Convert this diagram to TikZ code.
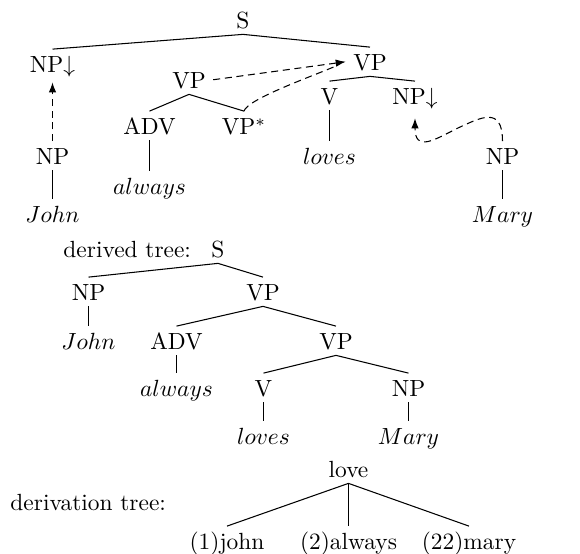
\documentclass[tikz,border=0pt]{standalone}
\usetikzlibrary{arrows.meta}
\begin{document}
\begin{tikzpicture}[x=0.4274pt,y=-0.4274pt,
  lab/.style={anchor=base,inner xsep=3pt,inner ysep=0pt,text height=10pt,text depth=2.1pt},
  plain/.style={anchor=base west,inner sep=0pt},
  branch/.style={line width=0.45pt},
  dsh/.style={line width=0.45pt,dash pattern=on 3pt off 2pt},
  subst/.style={dsh,-{Latex[length=4.3pt,width=3.2pt]}}]
\useasboundingbox (0,0) rectangle (580,554);
% elementary trees
\node[lab] (S1) at (243,29) {S};
\node[lab] (NPd1) at (52.5,73) {NP$\downarrow$};
\node[lab] (VPa) at (189,89) {VP};
\node[lab] (ADVa) at (149.5,135) {ADV};
\node[lab] (VPs) at (244,135) {VP$^*$};
\node[lab] (alw1) at (149.5,195) {$always$};
\node[lab] (NPj) at (52.5,165) {NP};
\node[lab] (john1) at (52.5,223) {$John$};
\node[lab] (VPb) at (370,71) {VP};
\node[lab] (V1) at (329.5,105) {V};
\node[lab] (NPd2) at (415,105) {NP$\downarrow$};
\node[lab] (loves1) at (329.5,165) {$loves$};
\node[lab] (NPm) at (502.5,165) {NP};
\node[lab] (mary1) at (502.5,223) {$Mary$};
\draw[branch] (NPd1.north) -- (S1.south) -- (VPb.north);
\draw[branch] (ADVa.north) -- (VPa.south) -- (VPs.north);
\draw[branch] (ADVa.south) -- (alw1.north);
\draw[branch] (NPj.south) -- (john1.north);
\draw[branch] (V1.north) -- (VPb.south) -- (NPd2.north);
\draw[branch] (V1.south) -- (loves1.north);
\draw[branch] (NPm.south) -- (mary1.north);
\draw[subst,shorten >=1.7pt] (NPj.north) -- (NPd1.south);
\draw[subst] (VPa.east) -- (VPb.west);
\draw[dsh,shorten >=4pt] (VPs.north) .. controls +(3,-12) and +(-32,14) .. (VPb.west);
\draw[subst,shorten >=3.4pt] (NPm.north) .. controls +(0,-36) and +(22,-10) .. (458,128)
  .. controls +(-24,12) and +(0,42) .. (NPd2.south);
% derived tree
\node[plain] (dlab) at (63,258) {derived tree:};
\node[lab] (S2) at (218,258) {S};
\node[lab] (NP2) at (88.5,301) {NP};
\node[lab] (john2) at (88.5,350) {$John$};
\node[lab] (VP2) at (263,301) {VP};
\node[lab] (ADV2) at (176.5,350) {ADV};
\node[lab] (alw2) at (176.5,397) {$always$};
\node[lab] (VP3) at (336,350) {VP};
\node[lab] (V2) at (263.5,397) {V};
\node[lab] (NP3) at (408.5,397) {NP};
\node[lab] (loves2) at (263.5,445) {$loves$};
\node[lab] (mary2) at (408.5,445) {$Mary$};
\draw[branch] (NP2.north) -- (S2.south) -- (VP2.north);
\draw[branch] (NP2.south) -- (john2.north);
\draw[branch] (ADV2.north) -- (VP2.south) -- (VP3.north);
\draw[branch] (ADV2.south) -- (alw2.north);
\draw[branch] (V2.north) -- (VP3.south) -- (NP3.north);
\draw[branch] (V2.south) -- (loves2.north);
\draw[branch] (NP3.south) -- (mary2.north);
% derivation tree
\node[plain] (dtlab) at (10,511) {derivation tree:};
\node[lab] (love) at (348.5,478) {love};
\node[lab] (dj) at (227,550) {(1)john};
\node[lab] (da) at (348.5,550) {(2)always};
\node[lab] (dm) at (469,550) {(22)mary};
\draw[branch] (love.south) -- (dj.north);
\draw[branch] (love.south) -- (da.north);
\draw[branch] (love.south) -- (dm.north);
\end{tikzpicture}
\end{document}
